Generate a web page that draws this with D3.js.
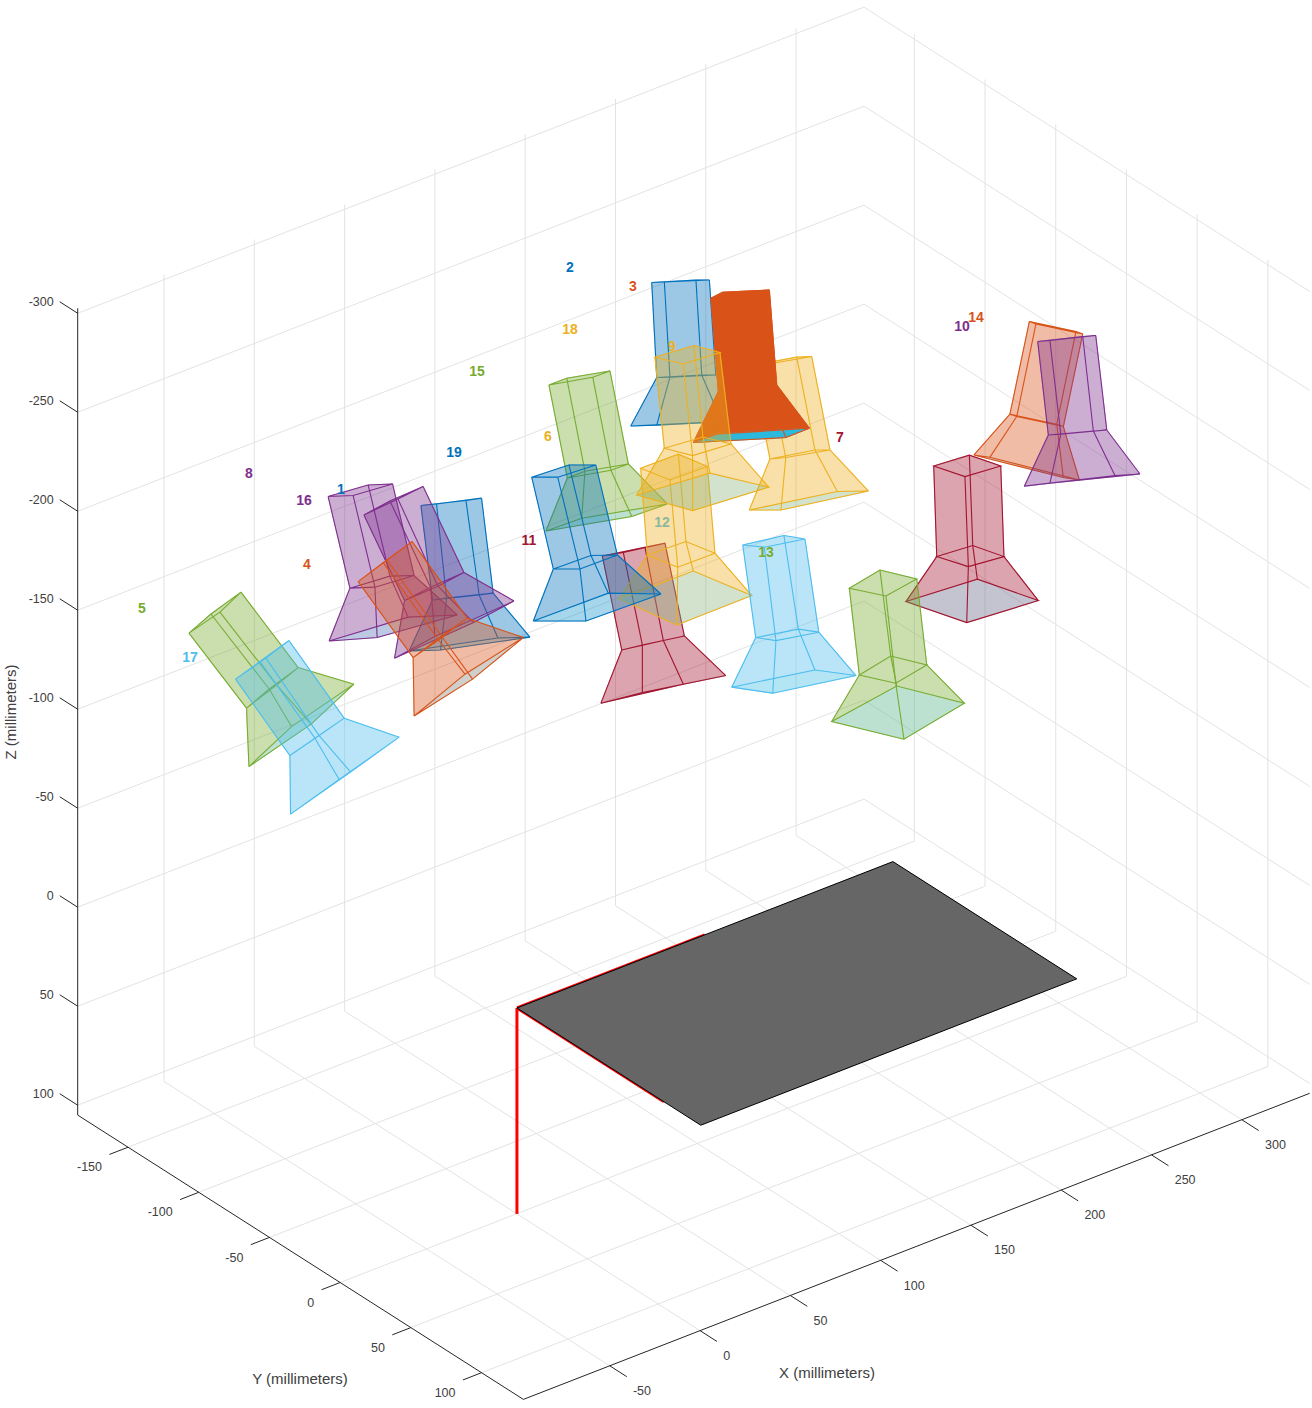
<!DOCTYPE html>
<html>
<head>
<meta charset="utf-8">
<script src="https://cdn.jsdelivr.net/npm/d3@7/dist/d3.min.js"></script>
<style>
html,body{margin:0;padding:0;background:#fff;}
svg{display:block;font-family:"Liberation Sans",Arial,sans-serif;}
</style>
</head>
<body>
<script>
// Axis ranges and ticks (millimetres)
const xLimits = [-97.8, 337.6];
const yLimits = [-185.6, 129.6];
const zLimits = [-302.5, 105];
const xTicks = [-50, 0, 50, 100, 150, 200, 250, 300];
const yTicks = [-150, -100, -50, 0, 50, 100];
const zTicks = [-300, -250, -200, -150, -100, -50, 0, 50, 100];

// Calibration pattern
const boardX = [0.1, 208.3];
const boardY = [0, 130];
const boardZ = 1.1;
const patternAxisLength = 104;

// Camera numbering and colour class
const cameraIds = d3.range(1, 20);
const palette = {blue:"#0072BD", orange:"#D95319", yellow:"#EDB120", purple:"#7E2F8E", green:"#77AC30", sky:"#4DBEEE", red:"#A2142F"};
const cameraColours = ["blue","blue","orange","orange","green","yellow","red","purple","yellow","purple","red","sky","green","orange","green","purple","sky","yellow","blue"];
const opaqueCameras = [3];
const drawOrder = [9,2,3,5,17,1,8,16,4,7,14,10,11,15,6,19,12,13,18];

// Camera outlines, in view-plane millimetres relative to the pattern origin.
// Each camera: back ring, middle ring, front ring, four [u,v] corners each.
const ringBack = [
 [[-48,-251.2],[-40.2,-252],[-17.7,-254.9],[-25.5,-253.7]],
 [[67.4,-362.7],[73.7,-363],[96.2,-364],[89.5,-364]],
 [[97,-354.9],[102.9,-357.9],[126.2,-359],[120.4,-356]],
 [[-79.4,-213.2],[-66.9,-222.7],[-52.4,-233.2],[-64.9,-224]],
 [[-164,-187.4],[-153,-197],[-138,-207.9],[-148.5,-197.9]],
 [[61.9,-269.9],[80.7,-276.9],[95.2,-270.7],[76.5,-264]],
 [[208.4,-271],[226.2,-276.4],[241.9,-271],[224,-265.7]],
 [[-94.4,-255.7],[-81.9,-256.2],[-62.2,-262],[-74.4,-261.5]],
 [[117.4,-321.2],[125.2,-321.9],[147.4,-325.7],[139.9,-325.4]],
 [[260.4,-333.2],[266.5,-333.7],[289.4,-336.2],[282.9,-335.7]],
 [[42.7,-226],[53.2,-227.7],[74,-232.4],[64,-230.4]],
 [[112.9,-231.5],[133.5,-236.2],[144,-234.5],[123.7,-230.4]],
 [[166.2,-209.9],[181.5,-219],[199.9,-214.5],[184.5,-206]],
 [[256.2,-343.2],[259.5,-342],[282.9,-337],[279.5,-338.2]],
 [[16,-311.5],[24.9,-314.9],[46.5,-318.5],[37.9,-315.4]],
 [[-76.5,-246.5],[-63.5,-253.5],[-46.9,-260.7],[-59.5,-254.5]],
 [[-140.7,-164.4],[-128.5,-173.2],[-114,-183.7],[-125.5,-174.9]],
 [[69,-325.4],[88.5,-331.2],[101.5,-327.7],[83.2,-322]],
 [[7.4,-265.4],[20.4,-265.4],[39.4,-271.5],[26,-271.5]]
];
const ringMiddle = [
 [[-42.2,-204],[-35.2,-204.9],[-11.9,-207.4],[-18.9,-206.5]],
 [[69.9,-315.2],[76.5,-315.4],[99.4,-316.5],[92.4,-316.5]],
 [[100.7,-308.2],[105.7,-310.4],[129.9,-311.5],[124.9,-309.4]],
 [[-51.9,-175.2],[-39.2,-184],[-24.9,-194.9],[-37.7,-186]],
 [[-135.2,-149.9],[-123.9,-159.5],[-109.4,-170.2],[-120.2,-161.5]],
 [[65.2,-226.5],[84.5,-233.2],[99,-227.4],[80.4,-220.4]],
 [[209.9,-225.7],[227.9,-231.2],[243.5,-225.7],[225.7,-220.7]],
 [[-83.5,-209.9],[-71,-210.4],[-51.4,-216.2],[-63.5,-215.9]],
 [[126.5,-274.5],[134.4,-275.2],[156.5,-279],[149,-279]],
 [[265.7,-286.5],[271.9,-286.9],[294.9,-289],[288.2,-288.5]],
 [[52.4,-179],[62.7,-181.5],[83.7,-186],[73.2,-183.7]],
 [[119.4,-185.2],[140.7,-189.4],[150.9,-187.9],[129.5,-183.7]],
 [[171.2,-166.5],[186.9,-176],[204.9,-171.5],[189.4,-162.4]],
 [[246.5,-296.9],[249.9,-295.7],[273.2,-290.7],[269.9,-291.9]],
 [[25.2,-265],[34,-268.4],[55.7,-272],[47,-268.9]],
 [[-56.2,-203.7],[-43.2,-210.4],[-26.5,-217.7],[-39.5,-210.9]],
 [[-113.5,-126.2],[-101,-134.9],[-86.4,-144.9],[-98.9,-136.2]],
 [[73.7,-279.9],[93,-285.5],[107,-282],[87.8,-276.2]],
 [[18.2,-219.5],[31.5,-219.5],[50.2,-226.5],[37,-226.2]]
];
const ringFront = [
 [[-53.9,-178.5],[-38.2,-179],[6.5,-185.4],[-9.5,-185]],
 [[56.9,-291],[69.9,-291.4],[115.2,-293.7],[102.4,-293.2]],
 [[88.2,-282.7],[99.9,-286.9],[146.2,-289.9],[134.4,-285.2]],
 [[-51.4,-146],[-26,-166.9],[3.2,-185.2],[-22.2,-164.4]],
 [[-134,-120.7],[-112.7,-140.7],[-81.5,-161.9],[-102.9,-141.9]],
 [[51.2,-204.5],[88.2,-218.5],[117.4,-206.2],[80,-191.5]],
 [[194.5,-203.2],[230.2,-214.4],[260.7,-203.7],[224.9,-192.7]],
 [[-93.9,-183.5],[-69.9,-185.2],[-29.9,-196.5],[-54.4,-195.4]],
 [[116.2,-249],[132,-249],[175.7,-258.5],[160.2,-258.2]],
 [[253.7,-260.9],[266.5,-262.4],[311.5,-267],[299,-266.2]],
 [[42,-152.4],[62.7,-157.7],[104.4,-166.2],[83.2,-161.9]],
 [[107.4,-160.4],[149,-169],[169.5,-166.2],[127.9,-157.4]],
 [[157.4,-143.2],[189.9,-161],[223.7,-152.4],[193.5,-134.4]],
 [[228.5,-276.5],[236.5,-275.4],[281.2,-264],[273.2,-265.2]],
 [[14.5,-238.5],[32.4,-244.9],[75.2,-252],[57.4,-245.7]],
 [[-61.2,-174.9],[-41,-185.7],[-1.5,-203.5],[-21.7,-192.7]],
 [[-113.2,-96.9],[-88.9,-114.2],[-58.9,-135.4],[-83.2,-118]],
 [[59.9,-256.5],[96.5,-267.4],[125.9,-260.4],[87.9,-248.7]],
 [[8.2,-193.5],[34.5,-193.5],[72,-207],[45.7,-207.4]]
];
// Number label anchor of each camera, same view-plane units
const labelU = [-88,26.5,58,-105,-187.5,15.5,161.5,-134,77.5,222.5,6,72.5,124.5,229.5,-20,-106.5,-163.5,26.5,-31.5];
const labelV = [-259.5,-370.5,-361,-222,-200,-286,-285.5,-267.5,-331,-341,-234,-243,-228,-345.5,-318.5,-254,-175.5,-339.5,-278];
const labelsUnderCameras = [12];

// ---------- projection built from d3 scales ----------
const W = 1312, H = 1408;
const frameX = d3.scaleLinear().domain(xLimits).range([0, 1]);
const frameY = d3.scaleLinear().domain(yLimits).range([0, 1]);
const frameZ = d3.scaleLinear().domain(zLimits).range([0, 1]);
const corner = [77.7, 308.3], xSpan = [786.3, -306.1], ySpan = [445.7, 284.3], zSpan = [0, 806.8];
function project(x, y, z) {
  const a = frameX(x), b = frameY(y), c = frameZ(z);
  return [corner[0] + a*xSpan[0] + b*ySpan[0] + c*zSpan[0],
          corner[1] + a*xSpan[1] + b*ySpan[1] + c*zSpan[1]];
}
// view-plane scales: 1 view mm = 2 px, origin at pattern origin
const origin = project(boardX[0], boardY[0], boardZ);
const viewU = d3.scaleLinear().domain([0, 100]).range([origin[0], origin[0] + 200]);
const viewV = d3.scaleLinear().domain([0, 100]).range([origin[1], origin[1] + 200]);
const view = p => [viewU(p[0]), viewV(p[1])];
const lineGen = d3.line();
const closed = pts => lineGen(pts) + "Z";

const svg = d3.select("body").append("svg").attr("width", W).attr("height", H).attr("viewBox", `0 0 ${W} ${H}`);

// ---------- grid ----------
const gridColour = "#e3e3e3";
const grid = svg.append("g").attr("fill","none").attr("stroke",gridColour).attr("stroke-width",1);
const seg = (g, a, b) => g.append("path").attr("d", lineGen([a, b]));
const [x0,x1] = xLimits, [y0,y1] = yLimits, [z0,z1] = zLimits;
xTicks.forEach(t => { seg(grid, project(t,y0,z1), project(t,y1,z1)); seg(grid, project(t,y0,z0), project(t,y0,z1)); });
yTicks.forEach(t => { seg(grid, project(x0,t,z1), project(x1,t,z1)); seg(grid, project(x1,t,z0), project(x1,t,z1)); });
zTicks.forEach(t => { seg(grid, project(x0,y0,t), project(x1,y0,t)); seg(grid, project(x1,y0,t), project(x1,y1,t)); });

// ---------- axes ----------
const axisColour = "#262626", tickText = "#404040";
const axes = svg.append("g").attr("fill","none").attr("stroke",axisColour).attr("stroke-width",1);
seg(axes, project(x0,y0,z0), project(x0,y0,z1));
seg(axes, project(x0,y0,z1), project(x0,y1,z1));
seg(axes, project(x0,y1,z1), project(x1,y1,z1));
const labels = svg.append("g").attr("fill",tickText).attr("font-size","12.5px");
xTicks.forEach(t => {
  const p = project(t,y1,z1), q = project(t,y1+12,z1);
  seg(axes, p, q);
  labels.append("text").attr("x",p[0]+23.2).attr("y",p[1]+24.8).attr("dy",".36em").text(t);
});
yTicks.forEach(t => {
  const p = project(x0,t,z1), q = project(x0-10.3,t,z1);
  seg(axes, p, q);
  labels.append("text").attr("x",p[0]-26).attr("y",p[1]+19.6).attr("dy",".36em").attr("text-anchor","end").text(t);
});
zTicks.forEach(t => {
  const p = project(x0,y0,t), q = project(x0,y0-12.7,t);
  seg(axes, p, q);
  labels.append("text").attr("x",p[0]-24).attr("y",p[1]-11.6).attr("dy",".36em").attr("text-anchor","end").text(t);
});
const titles = svg.append("g").attr("fill",tickText).attr("font-size","15px").attr("text-anchor","middle");
titles.append("text").attr("x",827).attr("y",1373).attr("dy",".36em").text("X (millimeters)");
titles.append("text").attr("x",300).attr("y",1379).attr("dy",".36em").text("Y (millimeters)");
titles.append("text").attr("transform","translate(11,712) rotate(-90)").attr("dy",".36em").text("Z (millimeters)");

// ---------- pattern ----------
const pat = svg.append("g");
const o3 = [boardX[0], boardY[0], boardZ];
const red = pat.append("g").attr("stroke","#ff0000").attr("fill","none").attr("stroke-width",3);
seg(red, project(...o3), project(o3[0]+patternAxisLength,o3[1],o3[2]));
seg(red, project(...o3), project(o3[0],o3[1]+patternAxisLength,o3[2]));
seg(red, project(...o3), project(o3[0],o3[1],o3[2]+patternAxisLength));
pat.append("path")
  .attr("d", closed([project(boardX[0],boardY[0],boardZ),project(boardX[1],boardY[0],boardZ),project(boardX[1],boardY[1],boardZ),project(boardX[0],boardY[1],boardZ)]))
  .attr("fill","#666666").attr("stroke","#000").attr("stroke-width",1);

// ---------- cameras ----------
const cyan = "#2DB9DD";
const cameraAlpha = 0.385;
const cameraLayer = svg.append("g");
function drawLabel(parent, id) {
  const i = id - 1;
  parent.append("text").attr("x",viewU(labelU[i])).attr("y",viewV(labelV[i])).attr("dy",".36em")
    .attr("text-anchor","middle").attr("font-size","14px").attr("font-weight","bold")
    .attr("fill",palette[cameraColours[i]]).text(id);
}
labelsUnderCameras.forEach(id => drawLabel(cameraLayer, id));
drawOrder.forEach(id => {
  const i = id - 1;
  const colour = palette[cameraColours[i]];
  const isOpaque = opaqueCameras.includes(id);
  const A = ringBack[i].map(view), B = ringMiddle[i].map(view), C = ringFront[i].map(view);
  const cam = cameraLayer.append("g").attr("class","camera");
  const fills = cam.append("g").attr("opacity", isOpaque ? 1 : cameraAlpha);
  const face = (pts, col) => fills.append("path").attr("d", closed(pts)).attr("fill", col).attr("stroke", col).attr("stroke-width", .6);
  d3.range(4).forEach(k => {
    const n = (k+1)%4;
    face([A[k],A[n],B[n],B[k]], colour);
    face([B[k],B[n],C[n],C[k]], colour);
  });
  face(A, colour);
  face(C, isOpaque ? cyan : d3.interpolateRgb(colour, cyan)(0.5));
  const edges = cam.append("g").attr("fill","none").attr("stroke",colour).attr("stroke-width",1.1);
  [A,B,C].forEach(r => edges.append("path").attr("d", closed(r)));
  d3.range(4).forEach(k => { seg(edges, A[k], B[k]); seg(edges, B[k], C[k]); });
});
const labelLayer = svg.append("g");
cameraIds.filter(id => !labelsUnderCameras.includes(id)).forEach(id => drawLabel(labelLayer, id));
</script>
</body>
</html>
